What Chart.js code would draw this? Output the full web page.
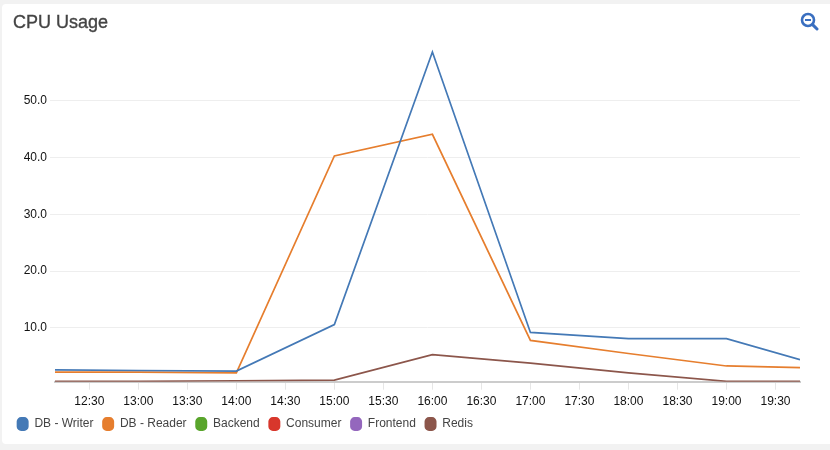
<!DOCTYPE html>
<html>
<head>
<meta charset="utf-8">
<title>CPU Usage</title>
<script src="https://cdn.jsdelivr.net/npm/chart.js@4"></script>
<style>
    html, body { margin: 0; padding: 0; background: #f2f2f2; overflow: hidden; }
    #card { position: absolute; left: 2px; top: 4px; width: 840px; height: 440px; background: #fff; border-radius: 4px; }
    #wrap { position: absolute; left: 0; top: 0; width: 830px; height: 450px; }
    #heading { position: absolute; left: 13px; top: 12px; font: 18px "Liberation Sans", Arial, sans-serif; color: #444; -webkit-text-stroke: 0.35px #444; }
    #zoomIcon { position: absolute; left: 800px; top: 12px; }
</style>
</head>
<body>
<div id="card"></div>
<div id="wrap"><canvas id="cpuChart"></canvas></div>
<div id="heading">CPU Usage</div>
<svg id="zoomIcon" width="19" height="19" viewBox="0 0 19 19">
    <circle cx="8" cy="8" r="6" fill="none" stroke="#3a6fc0" stroke-width="2.6"/>
    <line x1="5" y1="8" x2="11" y2="8" stroke="#3a6fc0" stroke-width="2"/>
    <line x1="12.6" y1="12.6" x2="17" y2="17" stroke="#3a6fc0" stroke-width="3" stroke-linecap="round"/>
</svg>
<script>
const times = ['12:09', '13:00', '14:00', '15:00', '16:00', '17:00', '18:00', '19:00', '19:45'];
const dbWriter = [2.6, 2.5, 2.4, 10.6, 58.6, 9.2, 8.1, 8.1, 4.4];
const dbReader = [2.2, 2.2, 2.1, 40.3, 44.1, 7.8, 5.5, 3.3, 3.0];
const backend = [];
const consumer = [];
const frontend = [];
const redis = [0.6, 0.6, 0.7, 0.8, 5.3, 3.8, 2.1, 0.6, 0.6];
const xTicks = ['12:30', '13:00', '13:30', '14:00', '14:30', '15:00', '15:30', '16:00', '16:30', '17:00', '17:30', '18:00', '18:30', '19:00', '19:30'];
const yTicks = [10, 20, 30, 40, 50];

function toMinutes(t) {
    const p = t.split(':');
    return Number(p[0]) * 60 + Number(p[1]);
}

function toLabel(m) {
    const mm = m % 60;
    return Math.floor(m / 60) + ':' + (mm < 10 ? '0' + mm : mm);
}

function series(label, values, color) {
    return {
        label: label,
        data: values.map((v, i) => ({ x: toMinutes(times[i]), y: v })),
        borderColor: color,
        backgroundColor: color,
        borderWidth: 1.7,
        pointRadius: 0,
        tension: 0
    };
}

Chart.defaults.font.family = '"Liberation Sans", Arial, sans-serif';

new Chart(document.getElementById('cpuChart').getContext('2d'), {
    type: 'line',
    data: {
        datasets: [
            series('DB - Writer', dbWriter, '#4479b6'),
            series('DB - Reader', dbReader, '#e67e2e'),
            series('Backend', backend, '#59a52c'),
            series('Consumer', consumer, '#d8372c'),
            series('Frontend', frontend, '#9467bd'),
            series('Redis', redis, '#8c564b')
        ]
    },
    options: {
        responsive: true,
        maintainAspectRatio: false,
        animation: false,
        layout: { padding: { left: 8, right: 30, top: 44, bottom: 10 } },
        plugins: {
            tooltip: { enabled: false },
            title: { display: false },
            legend: {
                position: 'bottom',
                align: 'start',
                labels: {
                    usePointStyle: true,
                    pointStyle: 'rectRounded',
                    pointStyleWidth: 11.5,
                    boxHeight: 10,
                    color: '#444',
                    font: { size: 12 },
                    padding: 8.9
                }
            }
        },
        scales: {
            x: {
                type: 'linear',
                min: toMinutes(times[0]),
                max: toMinutes(times[times.length - 1]),
                afterBuildTicks: axis => { axis.ticks = xTicks.map(t => ({ value: toMinutes(t) })); },
                afterFit: axis => { axis.height -= 5; },
                grid: { drawOnChartArea: false, drawTicks: true, color: '#e6e6e6', tickLength: 8 },
                border: { color: '#ccc', width: 2 },
                ticks: {
                    color: '#111',
                    font: { size: 12 },
                    maxRotation: 0,
                    autoSkip: false,
                    padding: 5,
                    callback: v => toLabel(v)
                }
            },
            y: {
                min: 0.53,
                max: 60,
                afterBuildTicks: axis => { axis.ticks = yTicks.map(v => ({ value: v })); },
                afterFit: axis => { axis.width = 47; },
                grid: { color: '#eeeeee', tickLength: 5 },
                border: { display: false },
                ticks: {
                    color: '#111',
                    font: { size: 12 },
                    padding: 3,
                    callback: v => v.toFixed(1)
                }
            }
        }
    }
});
</script>
</body>
</html>
